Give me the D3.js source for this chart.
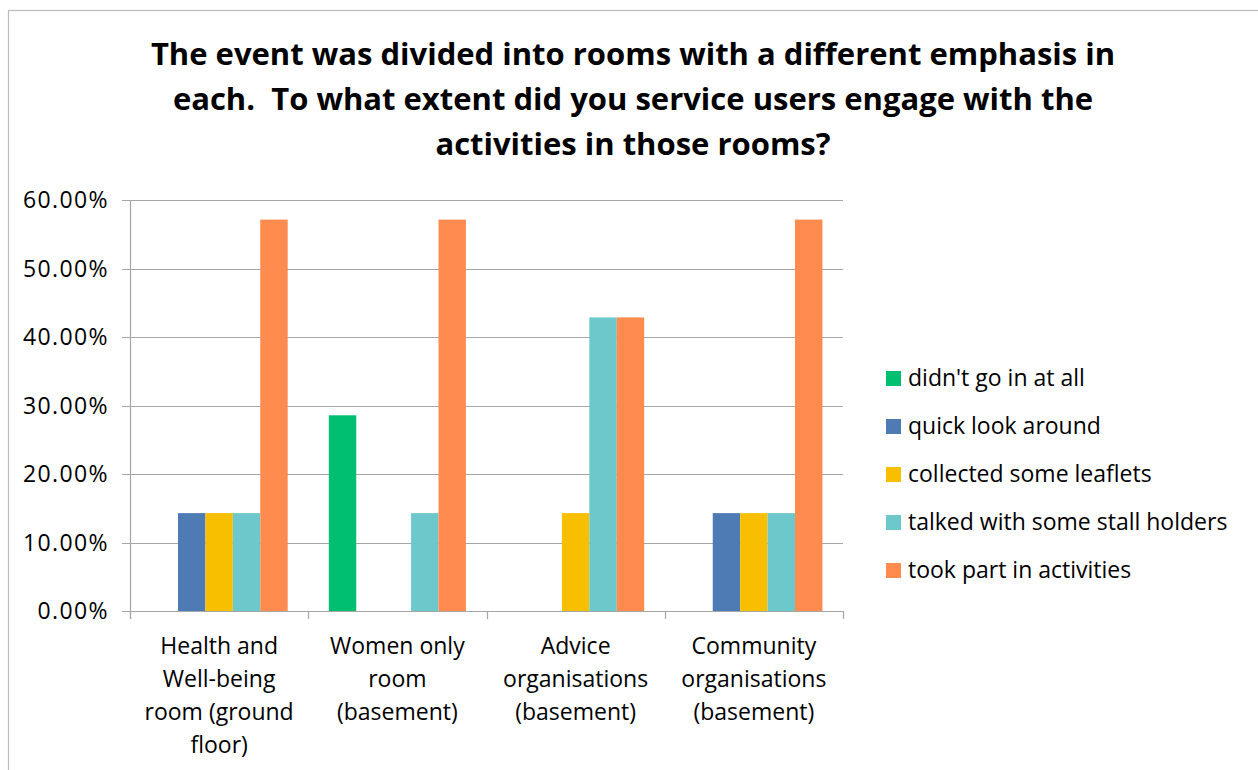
<!DOCTYPE html>
<html>
<head>
<meta charset="utf-8">
<script src="https://cdn.jsdelivr.net/npm/d3@7"></script>
<style>
  html, body { margin: 0; padding: 0; background: #fff; }
  svg { display: block; }
  text { font-family: "Open Sans", Lato, "Liberation Sans", sans-serif; fill: #000; white-space: pre; }
</style>
</head>
<body>
<svg id="chart" width="1258" height="770"></svg>
<script>
// Rooms (x categories), each label split into lines
const categories = [
  ["Health and", "Well-being", "room (ground", "floor)"],
  ["Women only", "room", "(basement)"],
  ["Advice", "organisations", "(basement)"],
  ["Community", "organisations", "(basement)"]
];
const seriesNames = [
  "didn't go in at all",
  "quick look around",
  "collected some leaflets",
  "talked with some stall holders",
  "took part in activities"
];
const seriesColors = ["#00bf71", "#4f7bb5", "#f8bf00", "#6dc8cb", "#ff8b4f"];
// One array per series, one value per room (fraction)
const didntGoIn   = [0,      0.2857, 0,      0];
const quickLook   = [0.1429, 0,      0,      0.1429];
const leaflets    = [0.1429, 0,      0.1429, 0.1429];
const stallTalk   = [0.1429, 0.1429, 0.4286, 0.1429];
const activities  = [0.5714, 0.5714, 0.4286, 0.5714];
const seriesValues = [didntGoIn, quickLook, leaflets, stallTalk, activities];
const yTicks = [0, 0.1, 0.2, 0.3, 0.4, 0.5, 0.6];
const titleLines = [
  "The event was divided into rooms with a different emphasis in",
  "each.  To what extent did you service users engage with the",
  "activities in those rooms?"
];

const svg = d3.select("#chart");

// Outer chart border
svg.append("rect")
  .attr("x", 8.5).attr("y", 10.5)
  .attr("width", 1260).attr("height", 780)
  .attr("fill", "#fff").attr("stroke", "#bcbcbc").attr("stroke-width", 1.2);

// Title
const title = svg.append("text")
  .attr("text-anchor", "middle")
  .style("font-weight", "bold")
  .style("font-size", "31px");
titleLines.forEach((t, i) => {
  title.append("tspan").attr("x", 633).attr("y", 65 + i * 45).text(t);
});

const plot = { left: 130, right: 843, top: 200, bottom: 611 };

const x0 = d3.scaleBand()
  .domain(d3.range(categories.length))
  .range([plot.left, plot.right])
  .paddingInner(0).paddingOuter(0);

const x1 = d3.scaleBand()
  .domain(d3.range(seriesNames.length))
  .range([0, x0.bandwidth()])
  .paddingInner(0)
  .paddingOuter(0.75);

const y = d3.scaleLinear().domain([0, 0.6]).range([plot.bottom, plot.top]);

// Gridlines
svg.append("g")
  .selectAll("line")
  .data(yTicks)
  .join("line")
  .attr("x1", plot.left - 8).attr("x2", plot.right)
  .attr("y1", d => Math.round(y(d)) + 0.5)
  .attr("y2", d => Math.round(y(d)) + 0.5)
  .attr("stroke", "#a6a6a6").attr("stroke-width", 1.2);

// Y axis labels
svg.append("g")
  .selectAll("text")
  .data(yTicks)
  .join("text")
  .attr("x", 109)
  .attr("y", d => y(d))
  .attr("dy", "0.36em")
  .attr("text-anchor", "end")
  .style("font-size", "23px")
  .style("letter-spacing", "1.4px")
  .text(d => d3.format(".2%")(d));

// Bars
const groups = svg.append("g")
  .selectAll("g")
  .data(d3.range(categories.length))
  .join("g")
  .attr("transform", c => `translate(${x0(c)},0)`);

groups.selectAll("rect")
  .data(c => seriesValues.map((vals, s) => ({ s, v: vals[c] })).filter(d => d.v > 0))
  .join("rect")
  .attr("x", d => x1(d.s))
  .attr("width", x1.bandwidth())
  .attr("y", d => y(d.v))
  .attr("height", d => y(0) - y(d.v))
  .attr("fill", d => seriesColors[d.s]);

// Axes lines and ticks
const axis = svg.append("g").attr("stroke", "#a6a6a6").attr("stroke-width", 1.2);
axis.append("line")
  .attr("x1", plot.left + 0.5).attr("x2", plot.left + 0.5)
  .attr("y1", plot.top).attr("y2", plot.bottom + 8);
axis.append("line")
  .attr("x1", plot.left - 8).attr("x2", plot.right)
  .attr("y1", plot.bottom + 0.5).attr("y2", plot.bottom + 0.5);
axis.selectAll("line.tick")
  .data(d3.range(categories.length + 1))
  .join("line")
  .attr("class", "tick")
  .attr("x1", c => Math.round(plot.left + c * x0.bandwidth()) + 0.5)
  .attr("x2", c => Math.round(plot.left + c * x0.bandwidth()) + 0.5)
  .attr("y1", plot.bottom).attr("y2", plot.bottom + 8);

// Category labels
svg.append("g")
  .selectAll("text")
  .data(categories)
  .join("text")
  .attr("text-anchor", "middle")
  .style("font-size", "23px")
  .each(function(lines, c) {
    d3.select(this).selectAll("tspan")
      .data(lines)
      .join("tspan")
      .attr("x", x0(c) + x0.bandwidth() / 2)
      .attr("y", (d, i) => 654 + i * 33)
      .text(d => d);
  });

// Legend
const legend = svg.append("g")
  .selectAll("g")
  .data(seriesNames)
  .join("g")
  .attr("transform", (d, i) => `translate(886,${378 + i * 48})`);
legend.append("rect")
  .attr("x", 0).attr("y", -7)
  .attr("width", 15).attr("height", 15)
  .attr("fill", (d, i) => seriesColors[i]);
legend.append("text")
  .attr("x", 22).attr("y", 0).attr("dy", "0.36em")
  .style("font-size", "23px")
  .text(d => d);
</script>
</body>
</html>
